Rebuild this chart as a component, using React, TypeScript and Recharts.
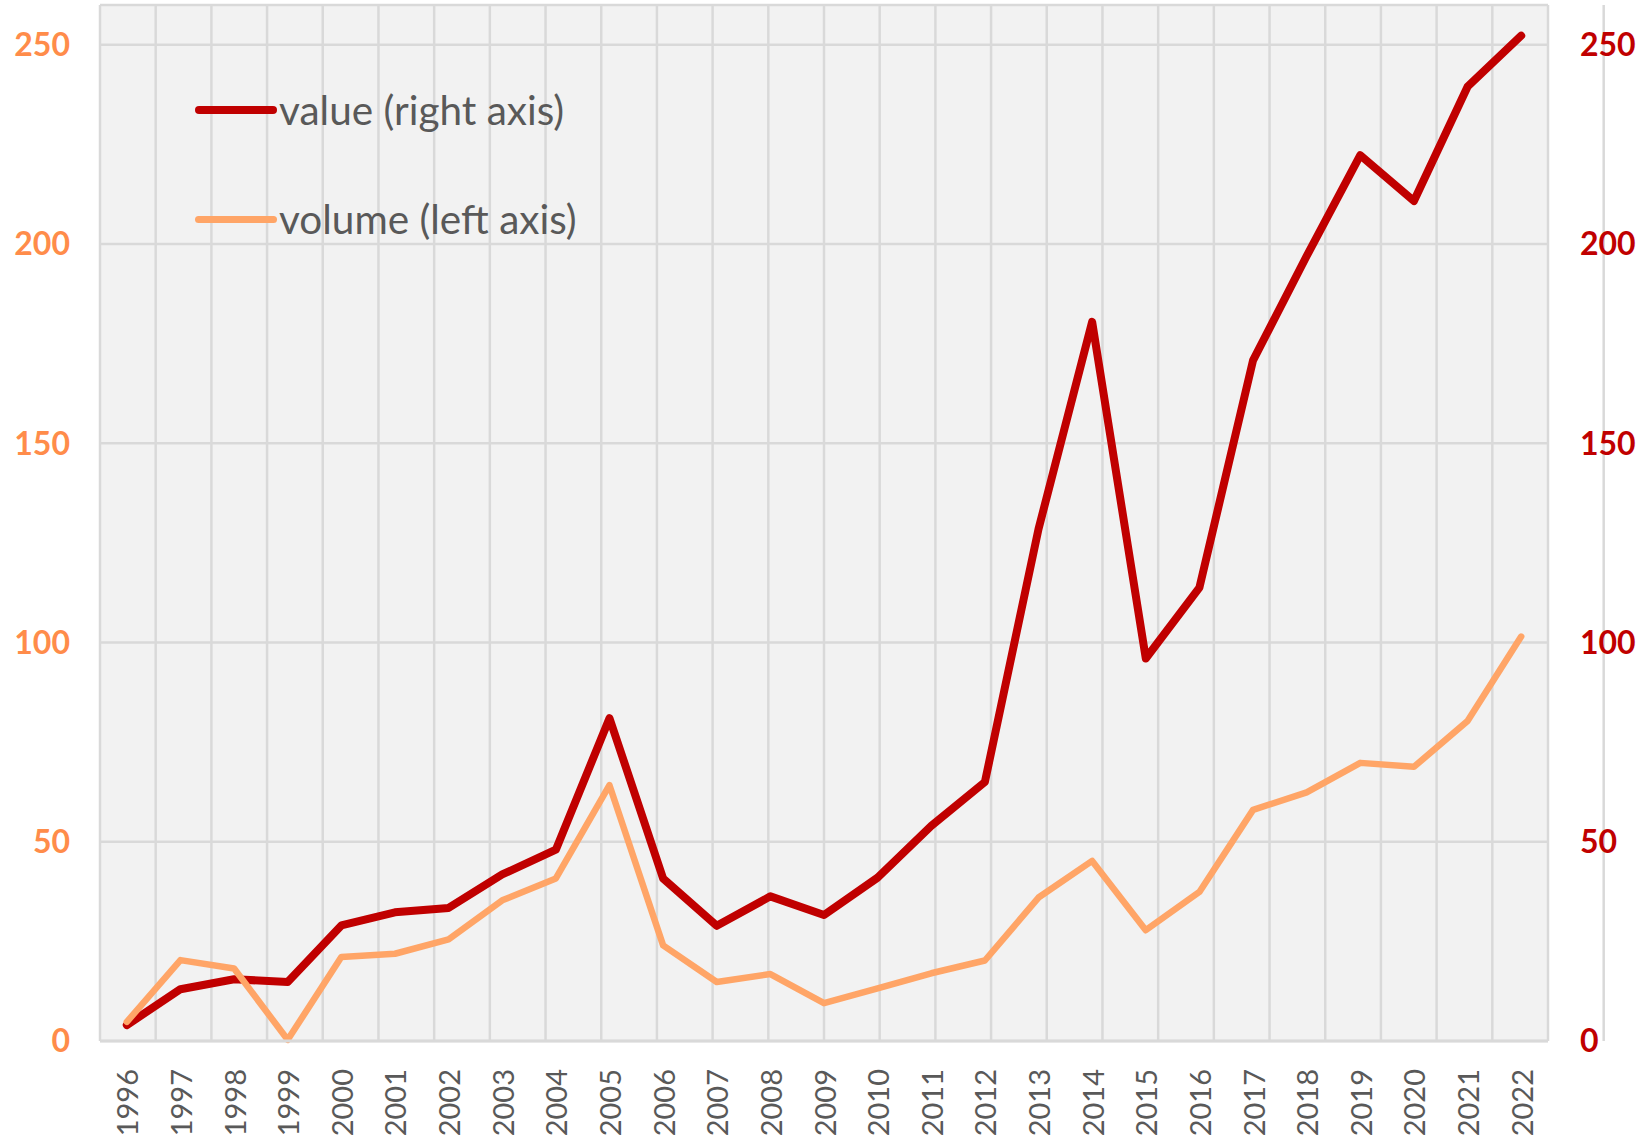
import React from 'react';
import { LineChart, Line, XAxis, YAxis, CartesianGrid, Legend } from 'recharts';

const years = [
  '1996', '1997', '1998', '1999', '2000', '2001', '2002', '2003', '2004',
  '2005', '2006', '2007', '2008', '2009', '2010', '2011', '2012', '2013',
  '2014', '2015', '2016', '2017', '2018', '2019', '2020', '2021', '2022',
];

// value (right axis)
const valueSeries = [
  4, 13, 15.5, 14.8, 29, 32.3, 33.4, 41.8, 48,
  81, 40.8, 28.9, 36.3, 31.6, 41, 54, 65, 128.5,
  180.5, 96, 113.8, 170.8, 197, 222.3, 210.8, 239.5, 252.3,
];

// volume (left axis)
const volumeSeries = [
  4.8, 20.3, 18.2, 0.3, 21.1, 21.9, 25.5, 35.3, 40.8,
  64.2, 24, 14.8, 16.8, 9.5, 13.2, 17, 20.2, 36,
  45.2, 27.8, 37.4, 58, 62.4, 69.8, 68.8, 80.3, 101.5,
];

const yTicks = [0, 50, 100, 150, 200, 250];
const yDomain = [0, 260];
const valueName = 'value (right axis)';
const volumeName = 'volume (left axis)';

const data = years.map((year, i) => ({
  year,
  value: valueSeries[i],
  volume: volumeSeries[i],
}));

const gridBoundaries = Array.from({ length: years.length + 1 }, (_, i) => i);

const FONT = 'Lato, "Open Sans", sans-serif';

const XTick = (props: any) => {
  const { x, y, payload } = props;
  return (
    <g transform={`translate(${x},${y})`}>
      <text
        x={0}
        y={0}
        transform="rotate(-90)"
        textAnchor="end"
        dominantBaseline="central"
        fill="#595959"
        fontSize={29}
        fontFamily={FONT}
      >
        {payload.value}
      </text>
    </g>
  );
};

const LegendContent = (props: any) => {
  const { payload = [] } = props;
  return (
    <div style={{ display: 'flex', flexDirection: 'column' }}>
      {payload.map((entry: any, i: number) => (
        <div
          key={entry.value}
          style={{
            display: 'flex',
            alignItems: 'center',
            height: 50,
            marginBottom: i === 0 ? 59 : 0,
          }}
        >
          <div
            style={{
              width: 82,
              height: i === 0 ? 8 : 7,
              borderRadius: 4,
              background: entry.color,
            }}
          />
          <span
            style={{
              marginLeft: 2,
              fontSize: 40.5,
              color: '#595959',
              fontFamily: FONT,
              lineHeight: 1,
              whiteSpace: 'nowrap',
            }}
          >
            {entry.value}
          </span>
        </div>
      ))}
    </div>
  );
};

export default function App() {
  return (
    <div
      style={{
        position: 'absolute',
        left: 0,
        top: 0,
        width: 1645,
        height: 1142,
        background: '#ffffff',
      }}
    >
      <LineChart
        width={1645}
        height={1142}
        data={data}
        margin={{ top: 5, right: 0, bottom: 0, left: 0 }}
        style={{ fontFamily: FONT }}
      >
        <XAxis
          xAxisId="grid"
          type="number"
          domain={[0, years.length]}
          ticks={gridBoundaries}
          allowDataOverflow
          hide
          height={0}
        />
        <CartesianGrid
          xAxisId="grid"
          yAxisId="left"
          fill="#F2F2F2"
          stroke="#D9D9D9"
          strokeWidth={2.5}
        />
        <XAxis
          dataKey="year"
          scale="band"
          interval={0}
          tickLine={false}
          axisLine={{ stroke: '#D9D9D9', strokeWidth: 3 }}
          tickSize={0}
          tickMargin={28}
          height={101}
          tick={<XTick />}
        />
        <YAxis
          yAxisId="left"
          domain={yDomain}
          ticks={yTicks}
          width={100}
          axisLine={false}
          tickLine={false}
          tickSize={0}
          tickMargin={30}
          tick={{ fill: '#FF8C4A', fontSize: 32, fontWeight: 700, fontFamily: FONT }}
        />
        <YAxis
          yAxisId="right"
          orientation="right"
          domain={yDomain}
          ticks={yTicks}
          width={97}
          axisLine={false}
          tickLine={false}
          tickSize={0}
          tickMargin={32}
          tick={{ fill: '#C00000', fontSize: 32, fontWeight: 700, fontFamily: FONT }}
        />
        <Legend
          layout="vertical"
          align="center"
          verticalAlign="middle"
          content={<LegendContent />}
          wrapperStyle={{ left: 195, top: 85, width: 'auto' }}
        />
        <Line
          yAxisId="right"
          type="linear"
          dataKey="value"
          name={valueName}
          stroke="#C00000"
          strokeWidth={8}
          strokeLinejoin="round"
          strokeLinecap="round"
          dot={false}
          activeDot={false}
          isAnimationActive={false}
        />
        <Line
          yAxisId="left"
          type="linear"
          dataKey="volume"
          name={volumeName}
          stroke="#FFA567"
          strokeWidth={6.5}
          strokeLinejoin="round"
          strokeLinecap="round"
          dot={false}
          activeDot={false}
          isAnimationActive={false}
        />
      </LineChart>
    </div>
  );
}
